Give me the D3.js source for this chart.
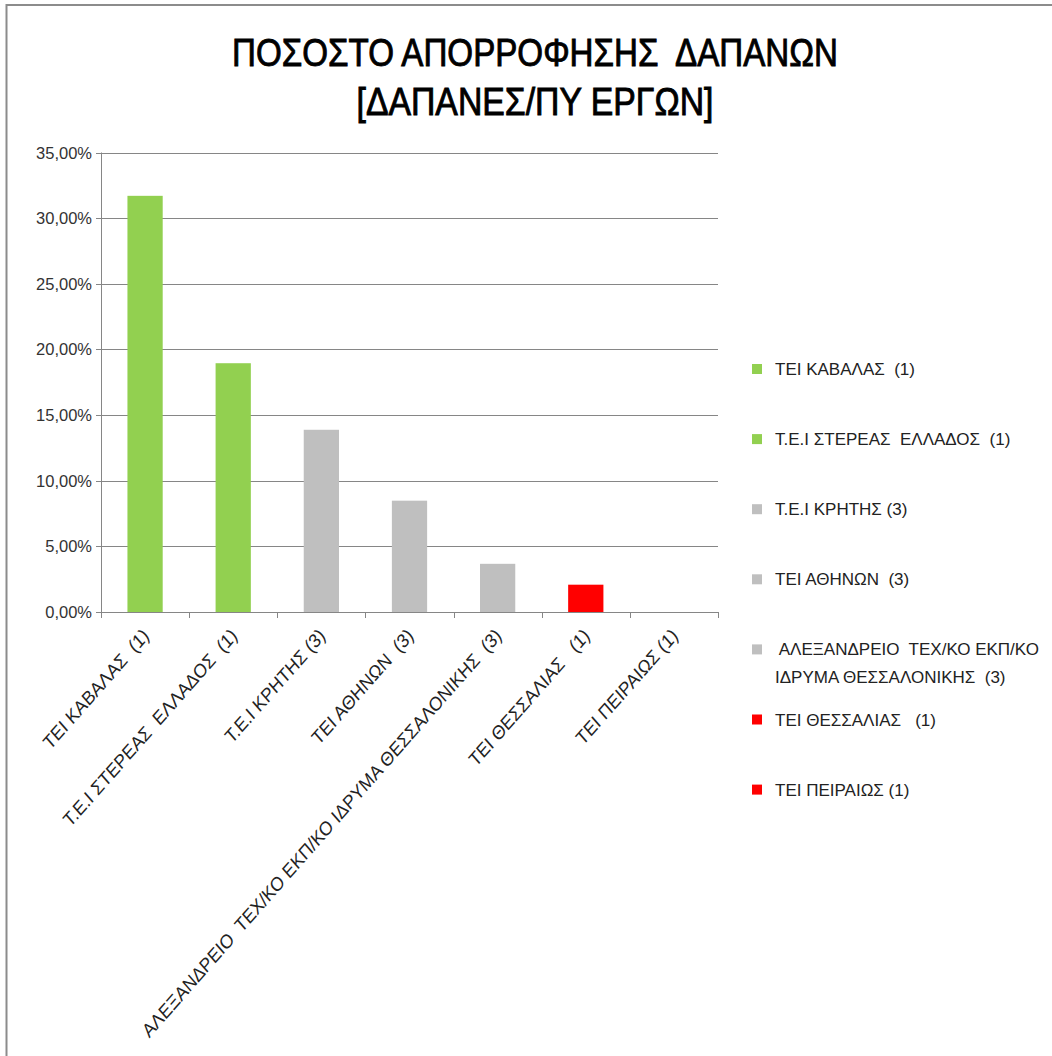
<script src="https://cdn.jsdelivr.net/npm/d3@7"></script>

<style>
  body { margin: 0; background: #fff; }
  text { font-family: "Liberation Sans", Arial, sans-serif; white-space: pre; }
  .title { font-family: "Liberation Sans Narrow", "Liberation Sans", sans-serif; }
</style>

<div id="container"></div>

<script>
// data
var categories = [
  "ΤΕΙ ΚΑΒΑΛΑΣ  (1)",
  "Τ.Ε.Ι ΣΤΕΡΕΑΣ  ΕΛΛΑΔΟΣ  (1)",
  "Τ.Ε.Ι ΚΡΗΤΗΣ (3)",
  "ΤΕΙ ΑΘΗΝΩΝ  (3)",
  "ΑΛΕΞΑΝΔΡΕΙΟ  ΤΕΧ/ΚΟ ΕΚΠ/ΚΟ ΙΔΡΥΜΑ ΘΕΣΣΑΛΟΝΙΚΗΣ  (3)",
  "ΤΕΙ ΘΕΣΣΑΛΙΑΣ   (1)",
  "ΤΕΙ ΠΕΙΡΑΙΩΣ (1)"
];
var values = [31.7, 18.95, 13.88, 8.48, 3.67, 2.08, 0];
var groups = ["green", "green", "gray", "gray", "gray", "red", "red"];
var legendLines = [
  ["ΤΕΙ ΚΑΒΑΛΑΣ  (1)"],
  ["Τ.Ε.Ι ΣΤΕΡΕΑΣ  ΕΛΛΑΔΟΣ  (1)"],
  ["Τ.Ε.Ι ΚΡΗΤΗΣ (3)"],
  ["ΤΕΙ ΑΘΗΝΩΝ  (3)"],
  [" ΑΛΕΞΑΝΔΡΕΙΟ  ΤΕΧ/ΚΟ ΕΚΠ/ΚΟ", "ΙΔΡΥΜΑ ΘΕΣΣΑΛΟΝΙΚΗΣ  (3)"],
  ["ΤΕΙ ΘΕΣΣΑΛΙΑΣ   (1)"],
  ["ΤΕΙ ΠΕΙΡΑΙΩΣ (1)"]
];
var yTicks = [0, 5, 10, 15, 20, 25, 30, 35];
var titleLines = ["ΠΟΣΟΣΤΟ ΑΠΟΡΡΟΦΗΣΗΣ  ΔΑΠΑΝΩΝ", "[ΔΑΠΑΝΕΣ/ΠΥ ΕΡΓΩΝ]"];

var colors = { green: "#92d050", gray: "#bfbfbf", red: "#ff0000" };

var W = 1052, H = 1056;
var plot = { left: 101, right: 718, top: 152.5, bottom: 612 };

var svg = d3.select("#container").append("svg")
  .attr("width", W)
  .attr("height", H);

// chart frame (only left and top edges visible)
svg.append("path")
  .attr("d", "M6.5,1056 V5 H1052")
  .attr("fill", "none")
  .attr("stroke", "#8c8c8c")
  .attr("stroke-width", 2);

// title
svg.selectAll(".title")
  .data(titleLines)
  .enter()
  .append("text")
    .attr("class", "title")
    .attr("x", 535)
    .attr("y", function (d, i) { return 66 + i * 49; })
    .attr("text-anchor", "middle")
    .attr("font-size", 38)
    .attr("fill", "#000")
    .attr("stroke", "#000")
    .attr("stroke-width", 0.9)
    .attr("textLength", function (d, i) { return i == 0 ? 606 : 357; })
    .attr("lengthAdjust", "spacingAndGlyphs")
    .text(function (d) { return d; });

var xscale = d3.scaleBand()
  .domain(categories)
  .range([plot.left, plot.right])
  .paddingInner(0.6)
  .paddingOuter(0.3);

var yscale = d3.scaleLinear()
  .domain([0, 35])
  .range([plot.bottom, plot.top]);

// gridlines
svg.append("g")
  .selectAll("line")
  .data(yTicks)
  .enter()
  .append("line")
    .attr("x1", plot.left - 5)
    .attr("x2", plot.right)
    .attr("y1", function (d) { return Math.round(yscale(d)) + 0.5; })
    .attr("y2", function (d) { return Math.round(yscale(d)) + 0.5; })
    .attr("stroke", "#868686")
    .attr("stroke-width", 1);

// y axis line
svg.append("line")
  .attr("x1", plot.left + 0.5).attr("x2", plot.left + 0.5)
  .attr("y1", plot.top).attr("y2", plot.bottom + 5)
  .attr("stroke", "#868686");

// y labels
svg.append("g")
  .selectAll("text")
  .data(yTicks)
  .enter()
  .append("text")
    .attr("x", 92)
    .attr("y", function (d) { return yscale(d) + 6; })
    .attr("text-anchor", "end")
    .attr("font-size", 16.5)
    .attr("fill", "#333")
    .text(function (d) { return d3.format(".2f")(d).replace(".", ",") + "%"; });

// bars
svg.append("g")
  .selectAll("rect")
  .data(categories)
  .enter()
  .append("rect")
    .attr("x", function (d) { return xscale(d); })
    .attr("width", xscale.bandwidth())
    .attr("y", function (d, i) { return yscale(values[i]); })
    .attr("height", function (d, i) { return plot.bottom - yscale(values[i]); })
    .style("fill", function (d, i) { return colors[groups[i]]; });

// x axis line and category ticks
var step = (plot.right - plot.left) / categories.length;
svg.append("line")
  .attr("x1", plot.left).attr("x2", plot.right)
  .attr("y1", plot.bottom + 0.5).attr("y2", plot.bottom + 0.5)
  .attr("stroke", "#868686");
svg.append("g")
  .selectAll("line")
  .data(d3.range(categories.length + 1))
  .enter()
  .append("line")
    .attr("x1", function (d) { return Math.round(plot.left + d * step) + 0.5; })
    .attr("x2", function (d) { return Math.round(plot.left + d * step) + 0.5; })
    .attr("y1", plot.bottom)
    .attr("y2", plot.bottom + 6)
    .attr("stroke", "#868686");

// x labels, rotated (picture is squeezed a bit horizontally)
svg.append("g")
  .selectAll("text")
  .data(categories)
  .enter()
  .append("text")
    .attr("transform", function (d) {
      var cx = xscale(d) + xscale.bandwidth() / 2;
      return "translate(" + (cx + 5) + "," + (plot.bottom + 25) + ") scale(0.88,1) rotate(-45)";
    })
    .attr("text-anchor", "end")
    .attr("font-size", 19.5)
    .attr("fill", "#222")
    .text(function (d) { return d; });

// legend
var legend = svg.append("g")
  .selectAll("g")
  .data(legendLines)
  .enter()
  .append("g")
    .attr("transform", function (d, i) { return "translate(752," + (369 + i * 70.1) + ")"; });
legend.append("rect")
  .attr("x", 0).attr("y", -5)
  .attr("width", 10).attr("height", 10)
  .style("fill", function (d, i) { return colors[groups[i]]; });
legend.each(function (d) {
  var t = d3.select(this).append("text")
    .attr("font-size", 17)
    .attr("fill", "#222");
  t.selectAll("tspan")
    .data(d)
    .enter()
    .append("tspan")
      .attr("x", 23)
      .attr("y", function (s, j) { return 6 + j * 28; })
      .text(function (s) { return s; });
});
</script>
